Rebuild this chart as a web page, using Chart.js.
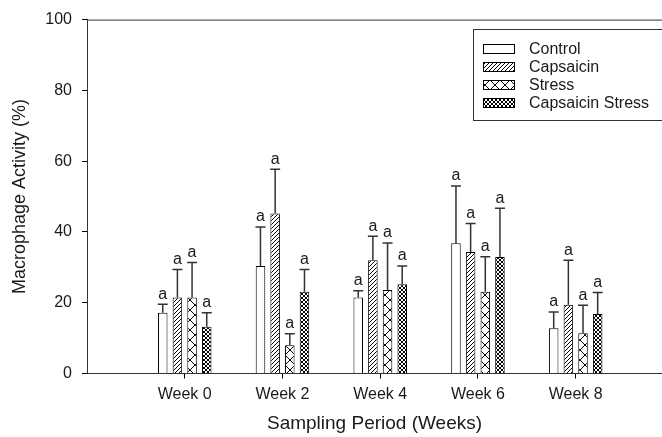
<!DOCTYPE html>
<html>
<head>
<meta charset="utf-8">
<script src="https://cdn.jsdelivr.net/npm/chart.js@4.4.1/dist/chart.umd.min.js"></script>
<style>
  html, body { margin: 0; padding: 0; background: #fff; }
</style>
</head>
<body>
<canvas id="macrophage-chart" width="662" height="437"></canvas>
<script>
// Categories and series
const weeks = ['Week 0', 'Week 2', 'Week 4', 'Week 6', 'Week 8'];
const seriesNames = ['Control', 'Capsaicin', 'Stress', 'Capsaicin Stress'];

// Means (%)
const control = [17.2, 30.4, 21.5, 36.8, 12.8];
const capsaicin = [21.5, 45.2, 32.0, 34.3, 19.4];
const stress = [21.5, 8.0, 23.6, 23.1, 11.4];
const capsaicinStress = [13.2, 23.1, 25.2, 32.9, 16.8];

// Upper error bars
const controlErr = [2.4, 11.0, 1.9, 16.2, 4.6];
const capsaicinErr = [7.9, 12.5, 6.8, 8.1, 12.6];
const stressErr = [9.9, 3.2, 13.3, 9.9, 7.9];
const capsaicinStressErr = [4.0, 6.3, 5.2, 13.8, 6.1];

// Significance letters
const controlSig = ['a', 'a', 'a', 'a', 'a'];
const capsaicinSig = ['a', 'a', 'a', 'a', 'a'];
const stressSig = ['a', 'a', 'a', 'a', 'a'];
const capsaicinStressSig = ['a', 'a', 'a', 'a', 'a'];

const yTicks = [0, 20, 40, 60, 80, 100];

const fontFamily = '"Liberation Sans", Arial, Helvetica, sans-serif';
const inkColor = '#1a1a1a';

// hatch fills
function makePattern(kind) {
    const size = kind === 'bigcross' ? 10 : 4;
    const c = document.createElement('canvas');
    c.width = size;
    c.height = size;
    const g = c.getContext('2d');
    g.fillStyle = '#fff';
    g.fillRect(0, 0, size, size);
    g.strokeStyle = '#000';
    g.lineWidth = 1;
    g.beginPath();
    if (kind !== 'plain') {
        g.moveTo(-1, size + 1); g.lineTo(size + 1, -1);
        g.moveTo(-1, 1); g.lineTo(1, -1);
        g.moveTo(size - 1, size + 1); g.lineTo(size + 1, size - 1);
    }
    if (kind === 'cross' || kind === 'bigcross') {
        g.moveTo(-1, -1); g.lineTo(size + 1, size + 1);
        g.moveTo(size - 1, -1); g.lineTo(size + 1, 1);
        g.moveTo(-1, size - 1); g.lineTo(1, size + 1);
    }
    g.stroke();
    return g.createPattern(c, 'repeat');
}

const fills = [makePattern('plain'), makePattern('diag'), makePattern('bigcross'), makePattern('cross')];
const means = [control, capsaicin, stress, capsaicinStress];
const errs = [controlErr, capsaicinErr, stressErr, capsaicinStressErr];
const sigs = [controlSig, capsaicinSig, stressSig, capsaicinStressSig];

// Error bars + letters
const errorBarPlugin = {
    id: 'errorBars',
    afterDatasetsDraw(chart) {
        const ctx = chart.ctx;
        const yScale = chart.scales.y;
        ctx.save();
        chart.data.datasets.forEach((ds, di) => {
            const meta = chart.getDatasetMeta(di);
            meta.data.forEach((bar, i) => {
                const top = yScale.getPixelForValue(means[di][i] + errs[di][i]);
                ctx.strokeStyle = '#333';
                ctx.lineWidth = 1.5;
                ctx.beginPath();
                ctx.moveTo(bar.x, bar.y);
                ctx.lineTo(bar.x, top);
                ctx.moveTo(bar.x - 5, top);
                ctx.lineTo(bar.x + 5, top);
                ctx.stroke();
                ctx.fillStyle = inkColor;
                ctx.font = '16px ' + fontFamily;
                ctx.textAlign = 'center';
                ctx.textBaseline = 'bottom';
                ctx.fillText(sigs[di][i], bar.x, top - 2);
            });
        });
        ctx.restore();
    }
};

// Top frame line + boxed legend
const framePlugin = {
    id: 'frame',
    afterDraw(chart) {
        const ctx = chart.ctx;
        const area = chart.chartArea;
        ctx.save();
        ctx.strokeStyle = '#333';
        ctx.lineWidth = 1;
        ctx.beginPath();
        ctx.moveTo(area.left, area.top + 0.5);
        ctx.lineTo(chart.width, area.top + 0.5);
        ctx.stroke();

        // legend box
        const bx = 473.5, by = 29.5, bh = 91;
        ctx.fillStyle = '#fff';
        ctx.fillRect(bx, by, 300, bh);
        ctx.strokeStyle = '#333';
        ctx.strokeRect(bx, by, 300, bh);
        ctx.font = '16px ' + fontFamily;
        ctx.textAlign = 'left';
        ctx.textBaseline = 'middle';
        seriesNames.forEach((name, i) => {
            const cy = 49 + i * 18;
            ctx.fillStyle = fills[i];
            ctx.fillRect(483, cy - 5, 32, 10);
            ctx.strokeStyle = '#000';
            ctx.strokeRect(483.5, cy - 4.5, 31, 9);
            ctx.fillStyle = inkColor;
            ctx.fillText(name, 529, cy + 1);
        });
        ctx.restore();
    }
};

const data = {
    datasets: seriesNames.map((name, di) => ({
        label: name,
        data: means[di].map((v, i) => ({ x: i, y: v })),
        backgroundColor: fills[di],
        borderColor: '#000',
        borderWidth: 1,
        categoryPercentage: 0.6,
        barPercentage: 0.65
    }))
};

const config = {
    type: 'bar',
    data: data,
    options: {
        responsive: false,
        animation: false,
        layout: { padding: { top: 19, right: 0, bottom: 0, left: 0 } },
        plugins: {
            legend: { display: false },
            tooltip: { enabled: false }
        },
        scales: {
            x: {
                type: 'linear',
                offset: false,
                min: -1,
                max: 4.883,
                afterBuildTicks: (s) => { s.ticks = weeks.map((w, i) => ({ value: i })); },
                afterFit: (s) => { s.height = 63.5; },
                grid: { offset: false, drawOnChartArea: false, drawTicks: true, tickLength: 5, color: '#000' },
                border: { display: true, color: '#333', width: 1 },
                ticks: {
                    callback: (v) => weeks[v] || '',
                    color: inkColor,
                    font: { family: fontFamily, size: 16 },
                    padding: 6,
                    maxRotation: 0,
                    autoSkip: false
                },
                title: {
                    display: true,
                    text: 'Sampling Period (Weeks)',
                    color: inkColor,
                    font: { family: fontFamily, size: 19 },
                    padding: { top: 0, bottom: 2 }
                }
            },
            y: {
                min: 0,
                max: 100,
                afterBuildTicks: (s) => { s.ticks = yTicks.map((v) => ({ value: v })); },
                afterFit: (s) => { s.width = 87; },
                grid: { drawOnChartArea: false, drawTicks: true, tickLength: 5, color: '#000' },
                border: { display: true, color: '#333', width: 1 },
                ticks: {
                    color: inkColor,
                    font: { family: fontFamily, size: 16 },
                    padding: 10
                },
                title: {
                    display: true,
                    text: 'Macrophage Activity (%)',
                    color: inkColor,
                    font: { family: fontFamily, size: 18 },
                    padding: { top: 9, bottom: 0 }
                }
            }
        }
    },
    plugins: [errorBarPlugin, framePlugin]
};

const ctxMacrophage = document.getElementById('macrophage-chart');
new Chart(ctxMacrophage, config);
</script>
</body>
</html>
